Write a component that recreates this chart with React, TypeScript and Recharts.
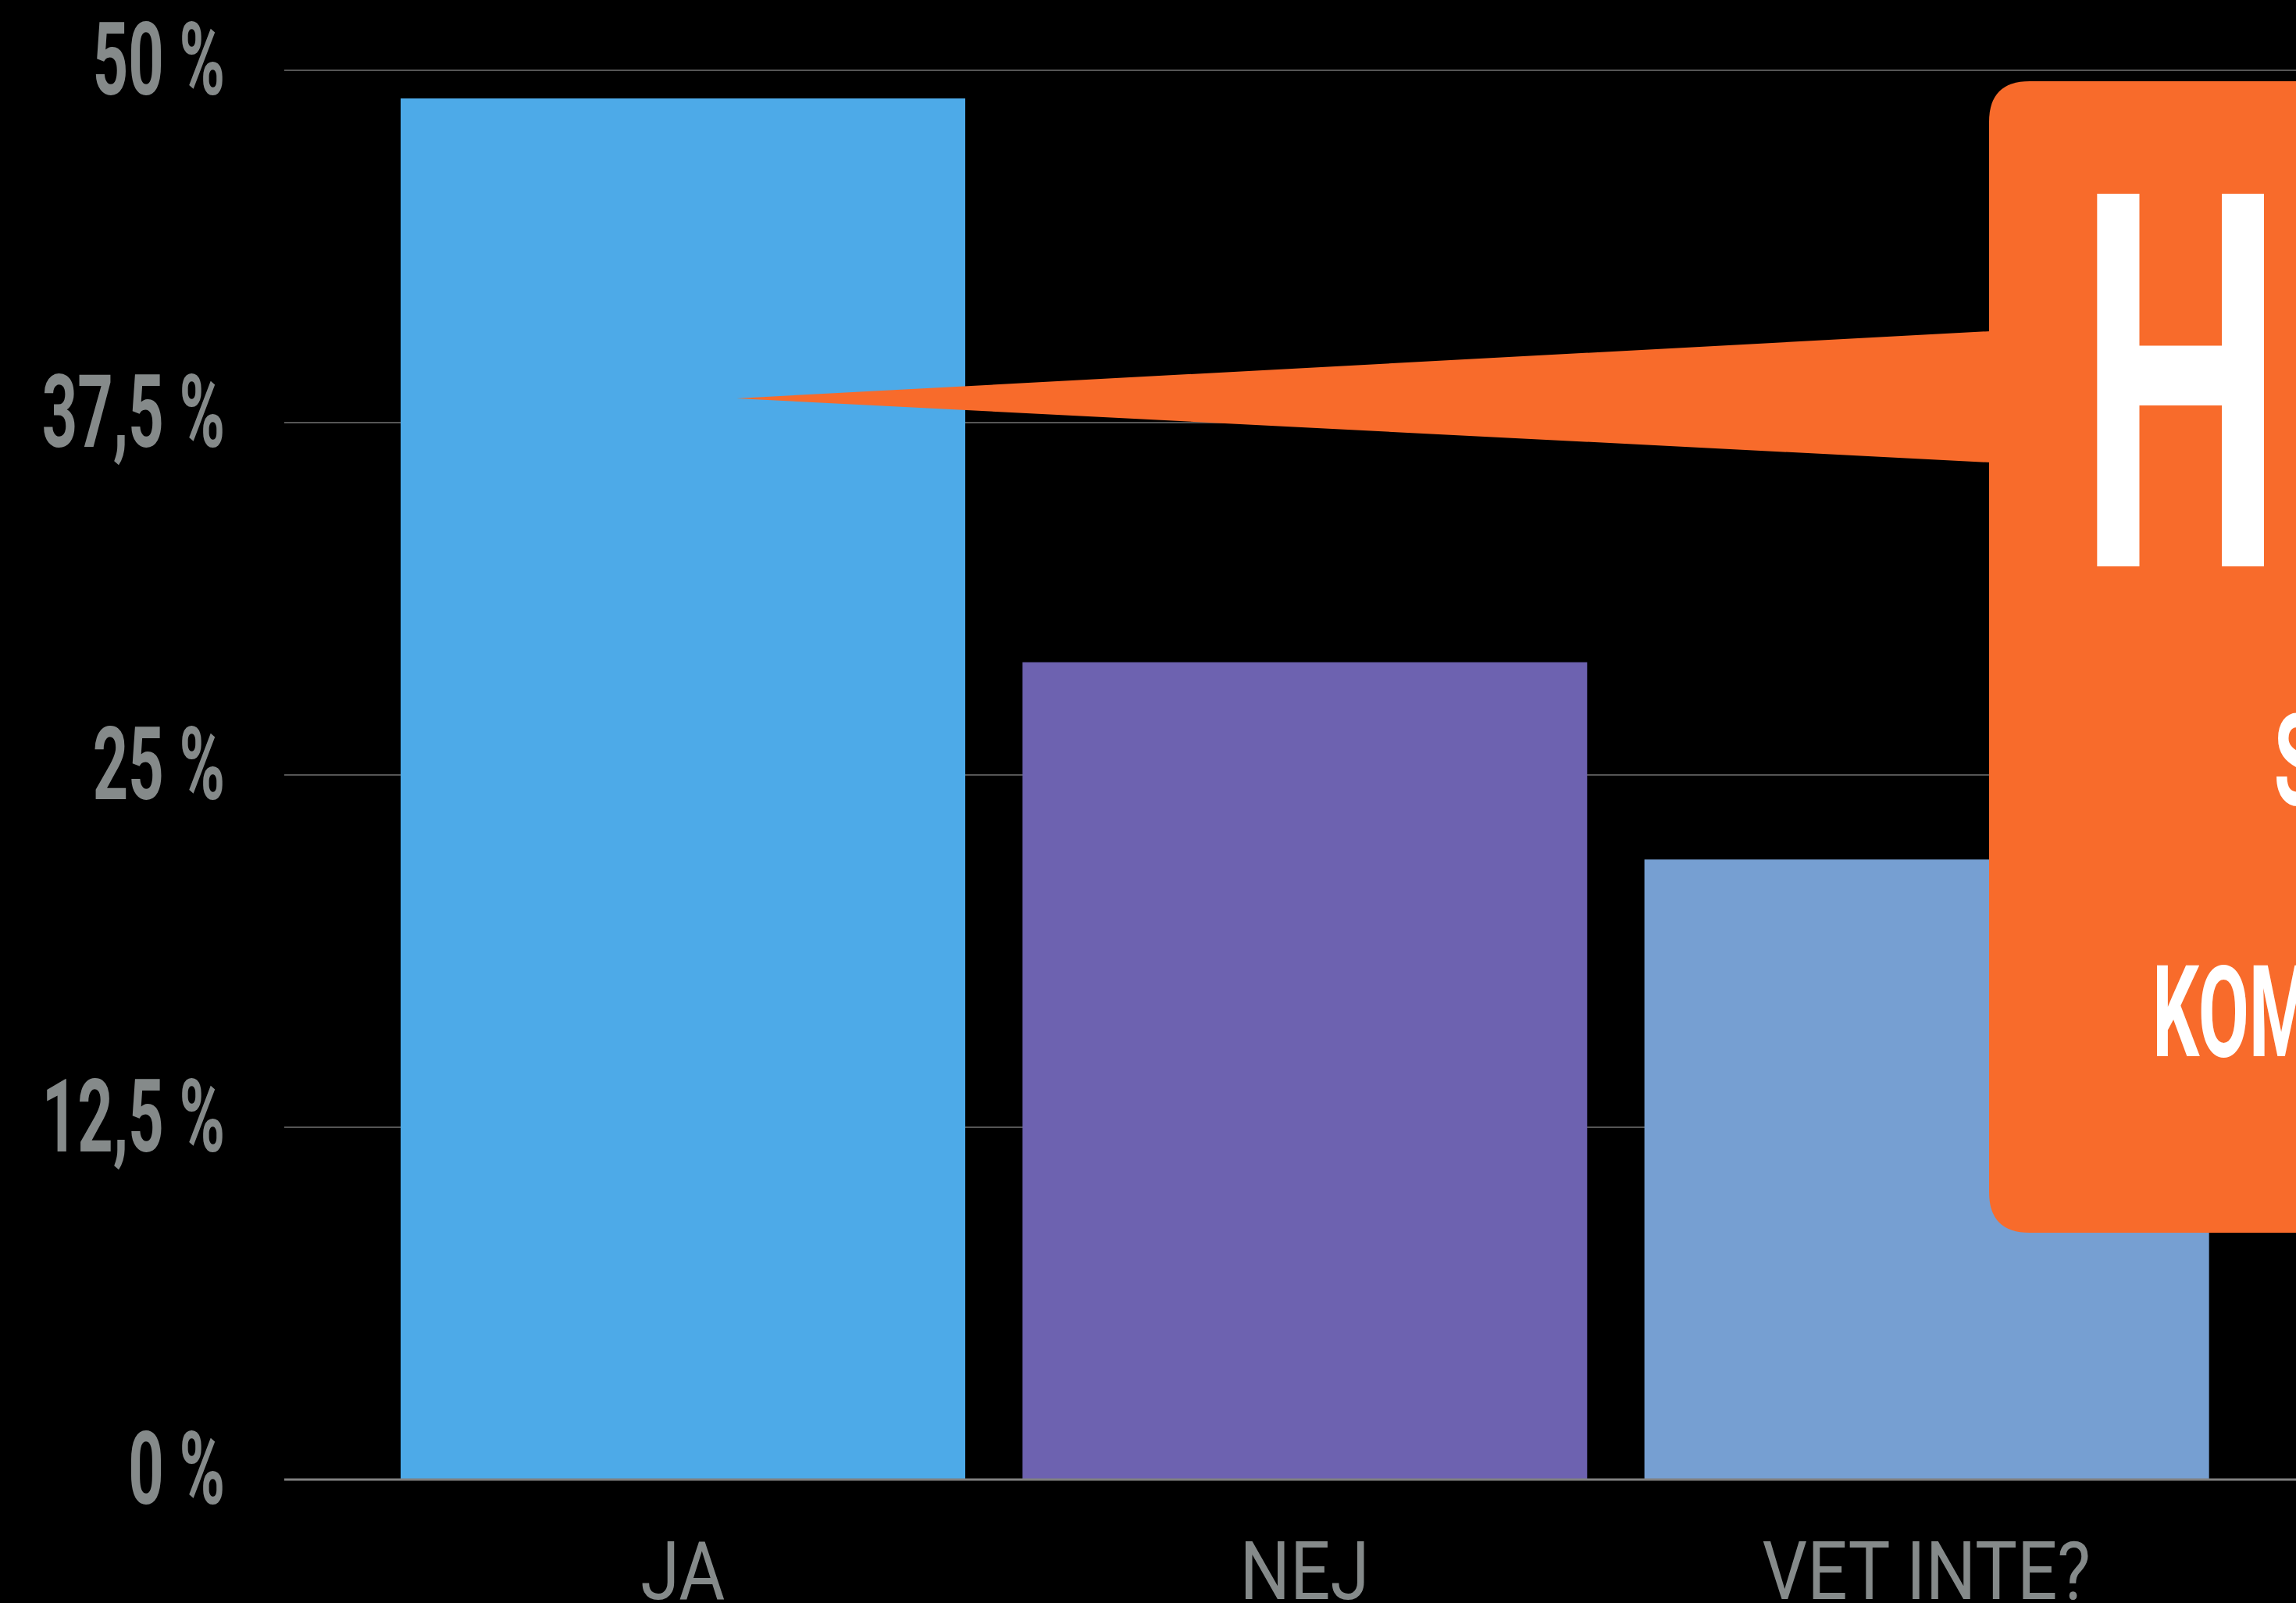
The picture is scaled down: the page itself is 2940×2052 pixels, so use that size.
import React from 'react';
import { BarChart, Bar, XAxis, YAxis, CartesianGrid, Cell } from 'recharts';

const categories = ['JA', 'NEJ', 'VET INTE?'];
const values = [49, 29, 22];
const barColors = ['#4DAAE8', '#6D62B0', '#769FD2'];
const yTicks = [0, 12.5, 25, 37.5, 50];
const yTickLabels = ['0 %', '12,5 %', '25 %', '37,5 %', '50 %'];
const calloutTexts = ['H', 'S', 'KOM'];

const data = categories.map((name, i) => ({ name, value: values[i] }));

const W = 2940;
const H = 2052;
const ORANGE = '#F86B2B';
const GRAY = '#858A8A';

const YTick = (props: any) => {
  const { x, y, payload } = props;
  const idx = yTicks.indexOf(payload.value);
  const label = idx >= 0 ? yTickLabels[idx] : String(payload.value);
  return (
    <text
      transform={`translate(${x + 3} ${y + 31}) scale(0.61 1)`}
      textAnchor="end"
      fill={GRAY}
      fontFamily="Roboto, 'DejaVu Sans', sans-serif"
      fontWeight={700}
      fontSize={130}
    >
      {label}
    </text>
  );
};

const XTick = (props: any) => {
  const { x, y, payload } = props;
  return (
    <text
      transform={`translate(${x} ${y}) scale(0.87 1)`}
      textAnchor="middle"
      fill={GRAY}
      fontFamily="Roboto, 'DejaVu Sans', sans-serif"
      fontWeight={400}
      fontSize={104}
    >
      {payload.value}
    </text>
  );
};

const Callout = () => {
  const left = 2547;
  const top = 104;
  const bottom = 1578;
  const right = W + 80;
  const r = 52;
  const rect = `M ${left} ${top + r} Q ${left} ${top} ${left + r} ${top} L ${right} ${top} L ${right} ${bottom} L ${left + r} ${bottom} Q ${left} ${bottom} ${left} ${bottom - r} Z`;
  const tri = `M 943 510 L ${left + 2} 424 L ${left + 2} 592 Z`;
  return (
    <svg
      width={W}
      height={H}
      style={{ position: 'absolute', left: 0, top: 0, pointerEvents: 'none' }}
    >
      <path d={tri} fill={ORANGE} />
      <path d={rect} fill={ORANGE} />
      <text
        transform="translate(2662 725) scale(0.55 1)"
        fill="#FFFFFF"
        fontFamily="Roboto, 'DejaVu Sans', sans-serif"
        fontWeight={700}
        fontSize={671}
      >
        {calloutTexts[0]}
      </text>
      <text
        transform="translate(2912 1030) scale(0.56 1)"
        fill="#FFFFFF"
        fontFamily="Roboto, 'DejaVu Sans', sans-serif"
        fontWeight={700}
        fontSize={163}
      >
        {calloutTexts[1]}
      </text>
      <text
        transform="translate(2756 1352) scale(0.58 1)"
        fill="#FFFFFF"
        fontFamily="Roboto, 'DejaVu Sans', sans-serif"
        fontWeight={700}
        fontSize={163}
      >
        {calloutTexts[2]}
      </text>
    </svg>
  );
};

export default function App() {
  return (
    <div style={{ position: 'absolute', left: 0, top: 0, width: W, height: H, background: '#000', overflow: 'hidden' }}>
      <BarChart
        width={W}
        height={H}
        data={data}
        margin={{ top: 90, right: 0, left: 0, bottom: 0 }}
        barSize={723}
      >
        <CartesianGrid vertical={false} stroke="#555555" strokeWidth={2} />
        <XAxis
          dataKey="name"
          height={158}
          axisLine={{ stroke: '#808080', strokeWidth: 3 }}
          tickLine={false}
          tickSize={0}
          tickMargin={153}
          padding={{ left: 112, right: 75 }}
          tick={<XTick />}
          interval={0}
        />
        <YAxis
          width={364}
          domain={[0, 50]}
          ticks={yTicks}
          interval={0}
          axisLine={false}
          tickLine={false}
          tickSize={0}
          tickMargin={79}
          tick={<YTick />}
        />
        <Bar dataKey="value" isAnimationActive={false}>
          {data.map((d, i) => (
            <Cell key={d.name} fill={barColors[i]} />
          ))}
        </Bar>
      </BarChart>
      <Callout />
    </div>
  );
}
